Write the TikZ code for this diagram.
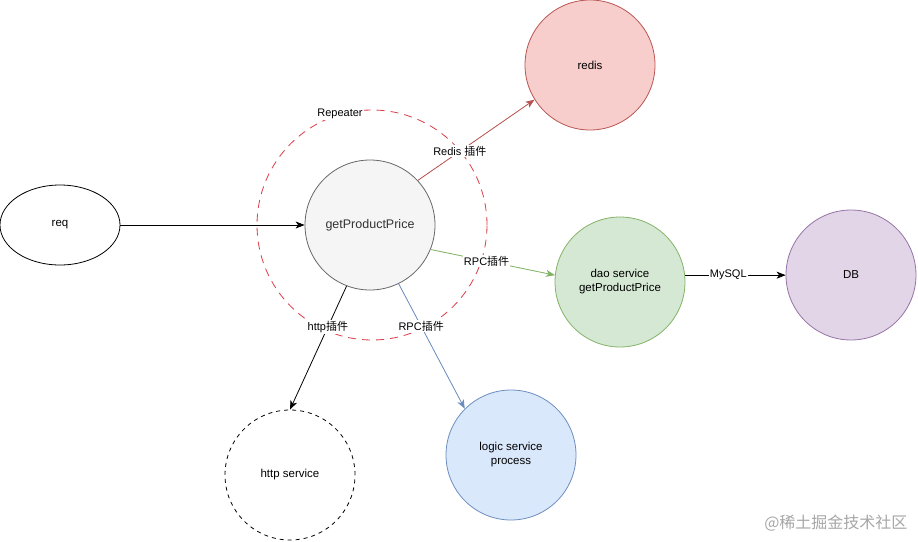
\documentclass[tikz,border=0pt]{standalone}
\usepackage{fontspec}
\setmainfont{Liberation Sans}
\newfontfamily\cjk{Noto Sans CJK SC}
\usetikzlibrary{arrows.meta,shapes.geometric}
\definecolor{redF}{HTML}{F8CECC}\definecolor{redS}{HTML}{B85450}
\definecolor{grnF}{HTML}{D5E8D4}\definecolor{grnS}{HTML}{82B366}
\definecolor{bluF}{HTML}{DAE8FC}\definecolor{bluS}{HTML}{6C8EBF}
\definecolor{purF}{HTML}{E1D5E7}\definecolor{purS}{HTML}{9673A6}
\definecolor{gpF}{HTML}{F5F5F5}\definecolor{gpS}{HTML}{666666}
\definecolor{gpT}{HTML}{333333}
\definecolor{repS}{HTML}{DC3C46}
\begin{document}
\begin{tikzpicture}[x=1pt,y=-1pt,
  circ/.style={circle,draw,minimum size=130pt,inner sep=0pt,align=center,font=\fontsize{11.5}{14}\selectfont,line width=0.8pt},
  lbl/.style={fill=white,inner sep=1pt,font=\fontsize{11}{12}\selectfont},
  arr/.style={line width=0.8pt,-{Stealth[length=9pt,width=7pt,inset=2.5pt]}}]
\useasboundingbox (0,0) rectangle (918,541);
\node[circle,draw=repS,dashed,dash pattern=on 8pt off 6pt,line width=0.8pt,minimum size=230pt,inner sep=0pt] (rep) at (372,225) {};
\node[fill=white,inner sep=1pt,font=\fontsize{11}{13}\selectfont] (replbl) at (340,114) {Repeater};
\node[ellipse,draw,minimum width=120pt,minimum height=80pt,inner sep=0pt,line width=0.8pt,font=\fontsize{11.5}{13}\selectfont] (req) at (60,225) {req};
\node[circ,fill=gpF,draw=gpS,text=gpT,font=\fontsize{12.5}{14}\selectfont] (gp) at (370,225) {getProductPrice};
\node[circ,fill=redF,draw=redS] (redis) at (590,65) {redis};
\node[circ,fill=grnF,draw=grnS] (dao) at (620,282) {dao service\\getProductPrice};
\node[circ,fill=purF,draw=purS] (db) at (851,275) {DB};
\node[circ,fill=bluF,draw=bluS] (logic) at (511,455) {logic service\\process};
\node[circ,fill=white,draw=black,dashed,dash pattern=on 4pt off 4pt] (http) at (290,475) {http service};
\draw[arr] (req) -- (gp);
\draw[arr,draw=redS,fill=redS] (gp.43.8) -- node[lbl,pos=0.36]{Redis {\cjk 插件}} (redis.212.5);
\draw[arr,draw=grnS,fill=grnS] (gp.-22.7) -- node[lbl,pos=0.45]{RPC{\cjk 插件}} (dao.174);
\draw[arr] (gp.-111) -- node[lbl,pos=0.33]{http{\cjk 插件}} (http.90);
\draw[arr,draw=bluS,fill=bluS] (gp.-64.5) -- node[lbl,pos=0.34]{RPC{\cjk 插件}} (logic.135.6);
\draw[arr] (dao.6.2) -- node[lbl,pos=0.43]{MySQL} (dao.6.2 -| db.west);
\node[text=black!35,font=\cjk\fontsize{16}{18}\selectfont,anchor=east] (wm) at (911,523) {@稀土掘金技术社区};
\end{tikzpicture}
\end{document}
